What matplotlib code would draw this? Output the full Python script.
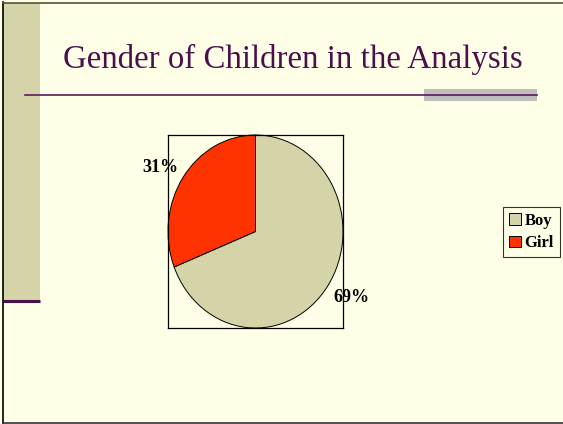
import matplotlib
matplotlib.use("Agg")
import matplotlib.pyplot as plt
from matplotlib.patches import Rectangle

categories = ["Boy", "Girl"]
values = [69, 31]
colors = ["#D4D4A8", "#FF3300"]
title = "Gender of Children in the Analysis"

W, H = 563, 424
fig = plt.figure(figsize=(W / 100, H / 100), dpi=100)
bg = "#FFFFE8"
fig.patch.set_facecolor(bg)

# decoration layer in pixel coordinates
deco = fig.add_axes([0, 0, 1, 1])
deco.set_xlim(0, W)
deco.set_ylim(H, 0)
deco.axis("off")
deco.add_patch(Rectangle((3, 3), 37, 298, facecolor="#D4D4A8", edgecolor="none"))
deco.plot([3, 40], [301, 301], color="#4B0F4B", lw=2.2, solid_capstyle="butt")
deco.plot([3, 3], [2, 423], color="black", lw=1.2)
deco.plot([3, 563], [2.5, 2.5], color="#555533", lw=1.2)
deco.plot([3, 563], [422.5, 422.5], color="#333333", lw=1.2)
deco.add_patch(Rectangle((424, 89), 113, 12, facecolor="#BEBEBE", edgecolor="none"))
deco.plot([25, 537], [95, 95], color="#5A1A5A", lw=1.2)
deco.text(293, 59, title, ha="center", va="center", fontsize=23.7,
          family="Liberation Serif", color="#4B0F4B")

# pie
ax = fig.add_axes([168 / W, (H - 328) / H, 175 / W, 193 / H])
ax.set_facecolor(bg)
wedges, _ = ax.pie(values, colors=colors, startangle=90, counterclock=False,
                   wedgeprops=dict(edgecolor="black", linewidth=0.7))
ax.set_frame_on(True)
ax.set_aspect("auto")
ax.set_xlim(-1, 1)
ax.set_ylim(-1, 1)
for s in ax.spines.values():
    s.set_visible(True)
    s.set_linewidth(0.9)
    s.set_color("black")
ax.set_xticks([])
ax.set_yticks([])

# label overlay on top of the pie axes
top = fig.add_axes([0, 0, 1, 1])
top.set_xlim(0, W)
top.set_ylim(H, 0)
top.axis("off")
top.patch.set_alpha(0)
top.text(160, 167, f"{values[1]}%", ha="center", va="center", fontsize=13,
         family="Liberation Serif", fontweight="bold")
top.text(351, 298, f"{values[0]}%", ha="center", va="center", fontsize=13,
         family="Liberation Serif", fontweight="bold")

leg = fig.legend(wedges, categories, loc="center", bbox_to_anchor=(531.5 / W, 1 - 232 / H),
                 prop=dict(family="Liberation Serif", weight="bold", size=12),
                 frameon=True, fancybox=False, handlelength=0.7, handleheight=0.7,
                 handletextpad=0.2, borderpad=0.35, borderaxespad=0, labelspacing=0.4)
leg.get_frame().set_edgecolor("black")
leg.get_frame().set_linewidth(0.8)
leg.get_frame().set_facecolor(bg)

fig.savefig("out.png", dpi=100, facecolor=bg)
